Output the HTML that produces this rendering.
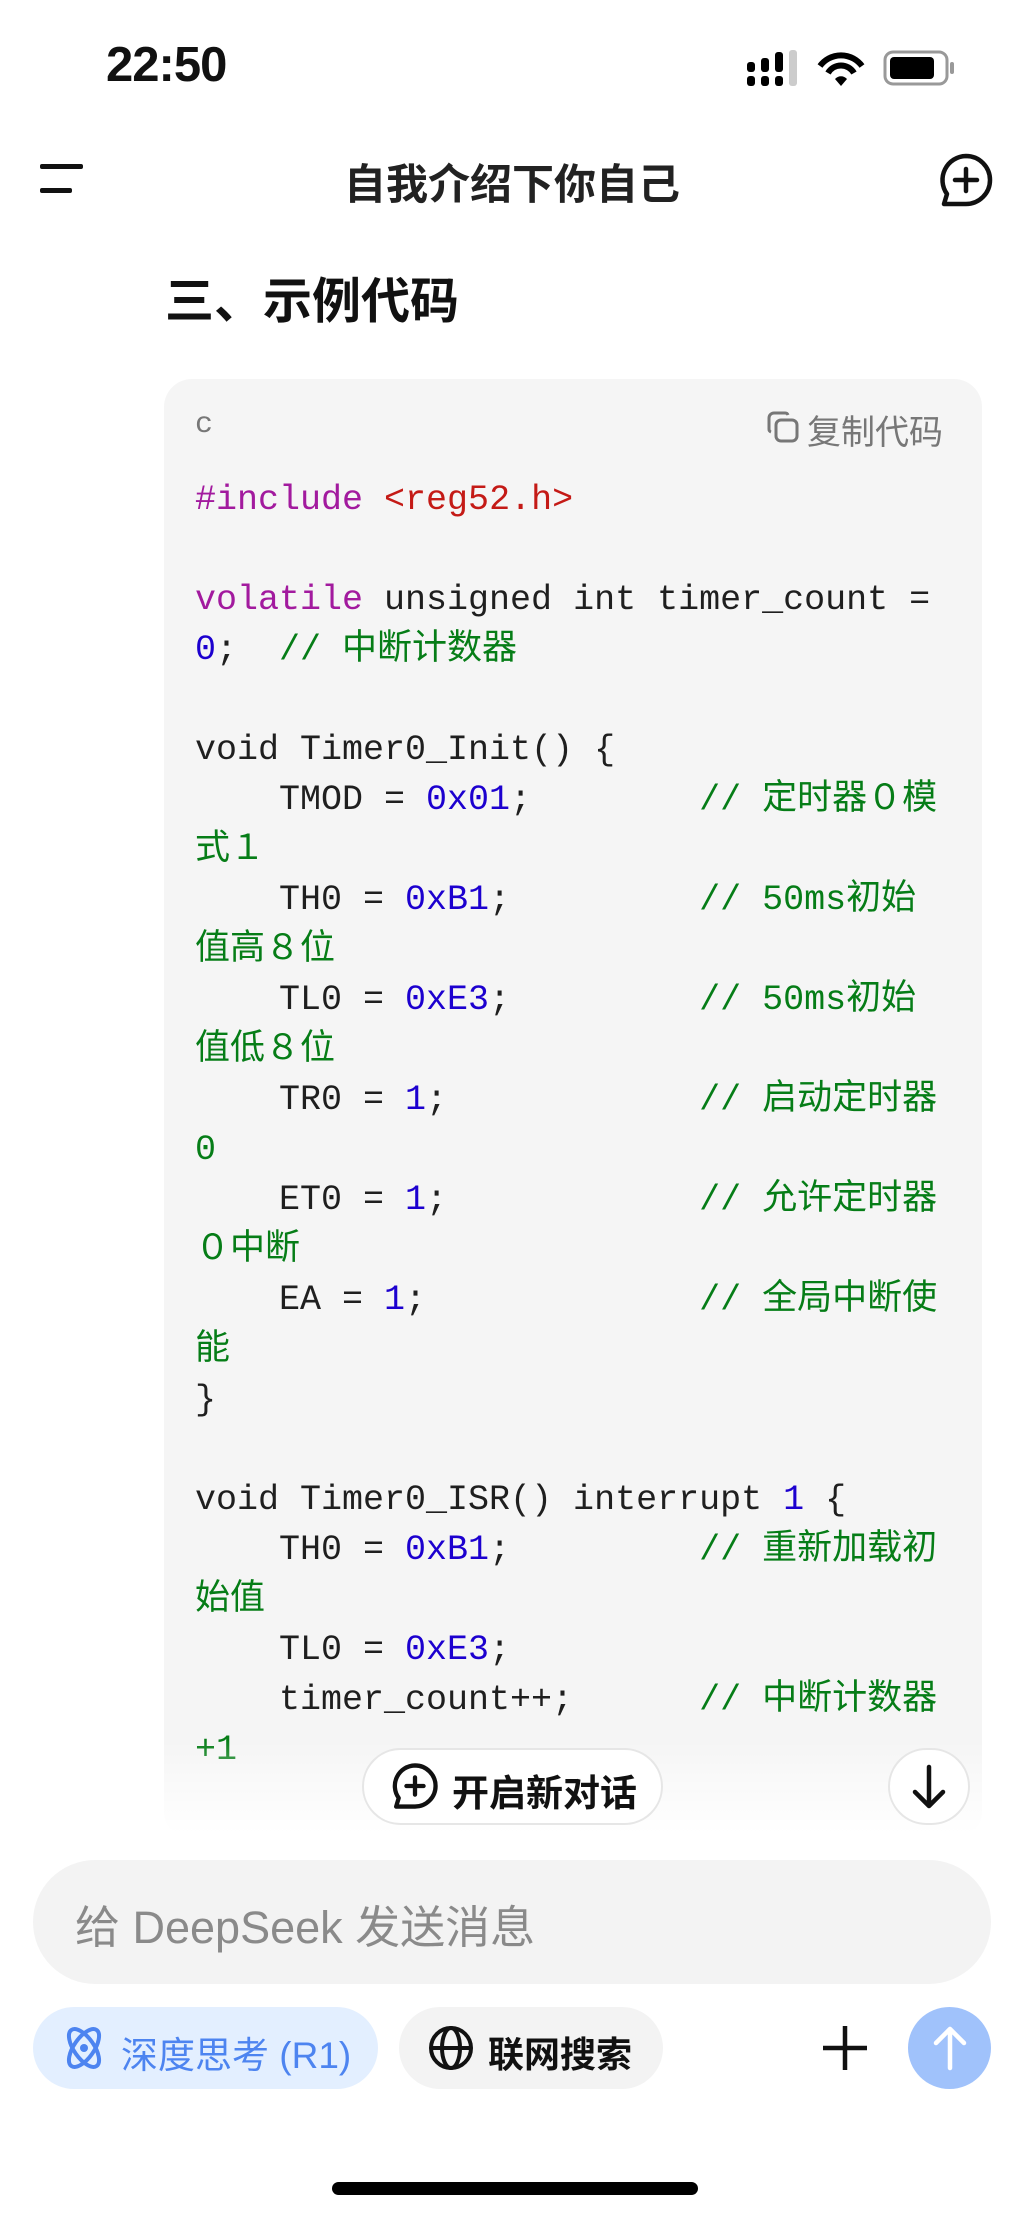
<!DOCTYPE html>
<html><head><meta charset="utf-8">
<style>
*{margin:0;padding:0;box-sizing:border-box}
body{width:1024px;height:2217px;background:#fff;position:relative;overflow:hidden;font-family:"Liberation Sans","Noto Sans CJK SC",sans-serif;color:#111}
.a{position:absolute}
pre{font-family:"Liberation Mono","Noto Sans CJK SC",monospace;font-size:35px;line-height:50px;color:#1f1f1f}
.k{color:#a21a9e}.s{color:#c41a16}.n{color:#1c00cf}.c{color:#067d17}
</style></head><body>
<div class="a" style="left:106px;top:37px;font-size:49px;font-weight:bold;letter-spacing:-1px">22:50</div>
<svg class="a" style="left:745px;top:48px" width="220" height="40" viewBox="0 0 220 40">
<g fill="#000"><rect x="2" y="14" width="8" height="10" rx="3"/><rect x="2" y="28" width="8" height="10" rx="3"/>
<rect x="16" y="10" width="8" height="14" rx="3"/><rect x="16" y="28" width="8" height="10" rx="3"/>
<rect x="30" y="4" width="8" height="20" rx="3"/><rect x="30" y="28" width="8" height="10" rx="3"/></g>
<rect x="44" y="2" width="8" height="36" rx="3" fill="#ccc"/>
<path d="M75 18 A26 26 0 0 1 117 18" stroke="#000" stroke-width="6" fill="none"/>
<path d="M83 25 A15 15 0 0 1 109 25" stroke="#000" stroke-width="6" fill="none"/>
<path d="M90 31 L96 38 L102 31 A8 8 0 0 0 90 31Z" fill="#000"/>
<rect x="140" y="4" width="62" height="32" rx="8" fill="none" stroke="#999" stroke-width="3"/>
<rect x="145" y="9" width="44" height="22" rx="4" fill="#000"/>
<rect x="205" y="14" width="4" height="12" rx="2" fill="#999"/>
</svg>
<div class="a" style="left:40px;top:164px;width:43px;height:5px;background:#111;border-radius:2px"></div>
<div class="a" style="left:40px;top:188px;width:32px;height:5px;background:#111;border-radius:2px"></div>
<div class="a" style="left:0;width:1024px;top:151px;text-align:center;font-size:42px;font-weight:bold;color:#222">自我介绍下你自己</div>
<svg class="a" style="left:938px;top:152px" width="56" height="56" viewBox="0 0 56 56">
<path d="M28 4 A24 24 0 1 1 28 52 L6 52 L9 42 A24 24 0 0 1 28 4Z" fill="none" stroke="#111" stroke-width="4.5" stroke-linejoin="round"/>
<path d="M28 17V39M17 28H39" stroke="#111" stroke-width="4.5" stroke-linecap="round"/></svg>
<div class="a" style="left:165px;top:262px;font-size:49px;font-weight:bold;color:#111">三、示例代码</div>
<div class="a" style="left:164px;top:379px;width:818px;height:1460px;background:#f5f5f5;border-radius:28px"></div>
<div class="a" style="left:195px;top:408px;font-size:30px;color:#777;font-family:'Liberation Mono',monospace">c</div>
<svg class="a" style="left:766px;top:410px" width="34" height="34" viewBox="0 0 34 34"><rect x="10" y="10" width="21" height="21" rx="5" fill="none" stroke="#777" stroke-width="3"/><path d="M22 5 A3 3 0 0 0 19 3 H8 A5 5 0 0 0 3 8 V19 A3 3 0 0 0 5 22" fill="none" stroke="#777" stroke-width="3"/></svg>
<div class="a" style="left:807px;top:405px;font-size:34px;color:#777">复制代码</div>
<pre class="a" style="left:195px;top:475px">
<span class="k">#include</span> <span class="s">&lt;reg52.h&gt;</span>

<span class="k">volatile</span> unsigned int timer_count =
<span class="n">0</span>;  <span class="c">// 中断计数器</span>

void Timer0_Init() {
    TMOD = <span class="n">0x01</span>;        <span class="c">// 定时器０模</span>
<span class="c">式１</span>
    TH0 = <span class="n">0xB1</span>;         <span class="c">// 50ms初始</span>
<span class="c">值高８位</span>
    TL0 = <span class="n">0xE3</span>;         <span class="c">// 50ms初始</span>
<span class="c">值低８位</span>
    TR0 = <span class="n">1</span>;            <span class="c">// 启动定时器</span>
<span class="c">0</span>
    ET0 = <span class="n">1</span>;            <span class="c">// 允许定时器</span>
<span class="c">０中断</span>
    EA = <span class="n">1</span>;             <span class="c">// 全局中断使</span>
<span class="c">能</span>
}

void Timer0_ISR() interrupt <span class="n">1</span> {
    TH0 = <span class="n">0xB1</span>;         <span class="c">// 重新加载初</span>
<span class="c">始值</span>
    TL0 = <span class="n">0xE3</span>;
    timer_count++;      <span class="c">// 中断计数器</span>
<span class="c">+1</span></pre>
<div class="a" style="left:0;top:1740px;width:1024px;height:110px;background:linear-gradient(rgba(255,255,255,0),#fff 85%)"></div>
<div class="a" style="left:362px;top:1748px;width:301px;height:77px;background:#fff;border:2px solid #e6e6e6;border-radius:40px"></div>
<svg class="a" style="left:391px;top:1762px" width="48" height="48" viewBox="0 0 56 56">
<path d="M28 4 A24 24 0 1 1 28 52 L6 52 L9 42 A24 24 0 0 1 28 4Z" fill="none" stroke="#111" stroke-width="5" stroke-linejoin="round"/>
<path d="M28 18V38M18 28H38" stroke="#111" stroke-width="5" stroke-linecap="round"/></svg>
<div class="a" style="left:452px;top:1763px;font-size:37px;font-weight:bold;color:#111">开启新对话</div>
<div class="a" style="left:888px;top:1748px;width:82px;height:77px;background:#fff;border:2px solid #e6e6e6;border-radius:40px"></div>
<svg class="a" style="left:909px;top:1764px" width="40" height="46" viewBox="0 0 40 46"><path d="M20 3V42M6 28L20 42L34 28" fill="none" stroke="#111" stroke-width="4.5" stroke-linecap="round" stroke-linejoin="round"/></svg>
<div class="a" style="left:33px;top:1860px;width:958px;height:124px;background:#f3f3f3;border-radius:62px"></div>
<div class="a" style="left:75px;top:1891px;font-size:45px;color:#8a8a8a">给 DeepSeek 发送消息</div>
<div class="a" style="left:33px;top:2007px;width:345px;height:82px;background:#e3efff;border-radius:41px"></div>
<svg class="a" style="left:60px;top:2024px" width="48" height="48" viewBox="0 0 48 48"><g fill="none" stroke="#4d84f0" stroke-width="4"><ellipse cx="24" cy="24" rx="10" ry="22" transform="rotate(-35 24 24)"/><ellipse cx="24" cy="24" rx="10" ry="22" transform="rotate(35 24 24)"/></g><circle cx="24" cy="24" r="4" fill="#4d84f0"/></svg>
<div class="a" style="left:121px;top:2025px;font-size:37px;color:#4d84f0">深度思考 (R1)</div>
<div class="a" style="left:399px;top:2007px;width:264px;height:82px;background:#f3f3f3;border-radius:41px"></div>
<svg class="a" style="left:428px;top:2025px" width="46" height="46" viewBox="0 0 46 46"><g fill="none" stroke="#111" stroke-width="4"><circle cx="23" cy="23" r="20"/><ellipse cx="23" cy="23" rx="9" ry="20"/><path d="M3 23H43"/></g></svg>
<div class="a" style="left:488px;top:2026px;font-size:36px;font-weight:bold;color:#111">联网搜索</div>
<svg class="a" style="left:821px;top:2024px" width="48" height="48" viewBox="0 0 48 48"><path d="M24 2V46M2 24H46" stroke="#111" stroke-width="4.5"/></svg>
<div class="a" style="left:908px;top:2007px;width:83px;height:82px;background:#a0c2fb;border-radius:50%"></div>
<svg class="a" style="left:928px;top:2024px" width="44" height="48" viewBox="0 0 44 48"><path d="M22 44V5M8 19L22 5L36 19" fill="none" stroke="#fff" stroke-width="4.5" stroke-linecap="round" stroke-linejoin="round"/></svg>
<div class="a" style="left:332px;top:2182px;width:366px;height:13px;background:#000;border-radius:7px"></div>
</body></html>
